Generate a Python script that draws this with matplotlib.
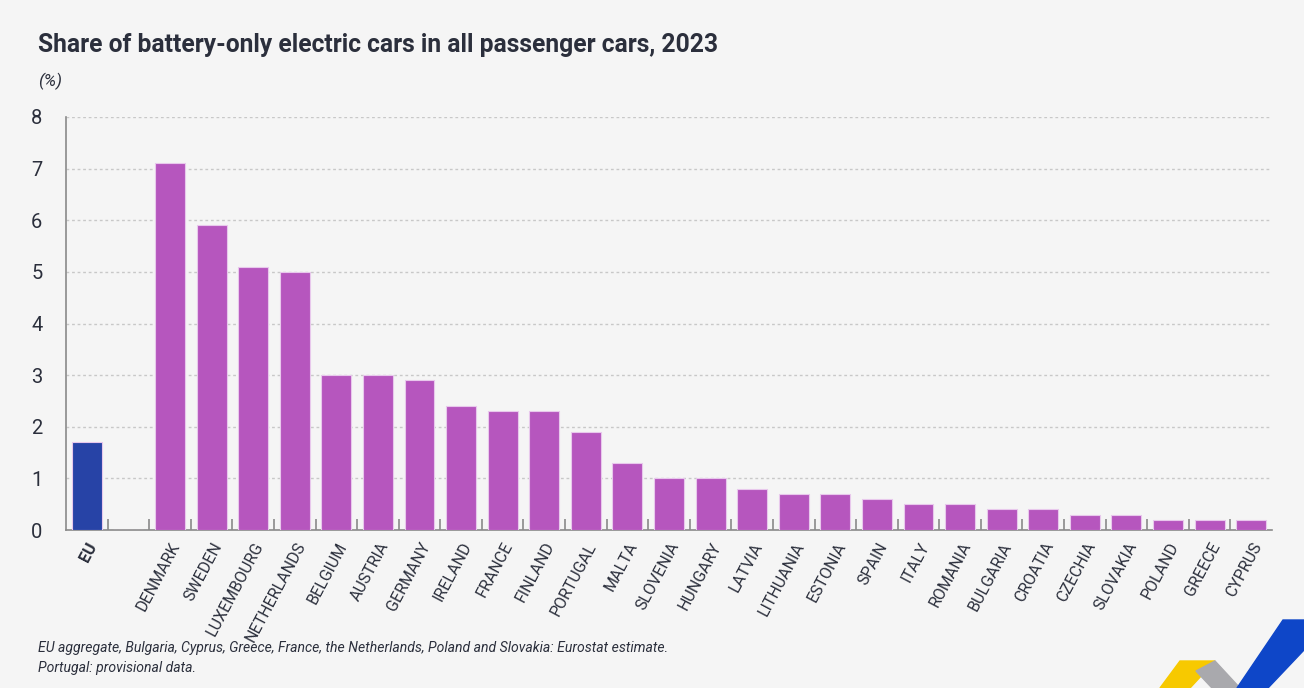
import matplotlib.pyplot as plt
from matplotlib.patches import Polygon
import numpy as np

plt.rcParams['font.family'] = ['Roboto', 'DejaVu Sans']

countries = ["EU", "", "DENMARK", "SWEDEN", "LUXEMBOURG", "NETHERLANDS", "BELGIUM",
             "AUSTRIA", "GERMANY", "IRELAND", "FRANCE", "FINLAND", "PORTUGAL",
             "MALTA", "SLOVENIA", "HUNGARY", "LATVIA", "LITHUANIA", "ESTONIA",
             "SPAIN", "ITALY", "ROMANIA", "BULGARIA", "CROATIA", "CZECHIA",
             "SLOVAKIA", "POLAND", "GREECE", "CYPRUS"]
shares = [1.7, 0, 7.1, 5.9, 5.1, 5.0, 3.0, 3.0, 2.9, 2.4, 2.3, 2.3, 1.9,
          1.3, 1.0, 1.0, 0.8, 0.7, 0.7, 0.6, 0.5, 0.5, 0.4, 0.4, 0.3,
          0.3, 0.2, 0.2, 0.2]
yticks = [0, 1, 2, 3, 4, 5, 6, 7, 8]

bg = "#f5f5f5"
purple = "#b656be"
blue = "#2743a6"
txt = "#2b2f3c"

fig = plt.figure(figsize=(13.04, 6.88), dpi=100, facecolor=bg)
ax = fig.add_axes([66 / 1304, 1 - 530 / 688, (1272 - 66) / 1304, (530 - 117) / 688])
ax.set_facecolor(bg)

x = np.arange(len(countries))
colors = [blue if c == "EU" else purple for c in countries]
ax.bar(x, shares, width=0.72, color=colors, edgecolor="#e8c8ec", linewidth=0.8, zorder=3)

ax.set_xlim(-0.5, len(countries) - 0.5)
ax.set_ylim(0, 8)
ax.set_yticks(yticks)
ax.set_yticklabels([str(v) for v in yticks], fontsize=14.5, color=txt)
ax.tick_params(axis="y", length=0, pad=17)
ax.grid(axis="y", linestyle=(0, (2, 2)), color="#c8c8c8", linewidth=1, zorder=0)

ax.set_xticks(x)
ax.set_xticklabels(countries, rotation=62, ha="right", rotation_mode="anchor",
                   fontsize=11.5, color=txt)
ax.get_xticklabels()[0].set_fontweight("bold")
ax.tick_params(axis="x", length=0, pad=7)
ax.set_xticks(np.arange(0.5, len(countries) - 1, 1), minor=True)
ax.tick_params(axis="x", which="minor", direction="in", length=8, width=1.2, color="#8a8a8a")

for s in ["top", "right"]:
    ax.spines[s].set_visible(False)
for s in ["left", "bottom"]:
    ax.spines[s].set_color("#8a8a8a")
    ax.spines[s].set_linewidth(1.2)

fig.text(38 / 1304, 1 - 45 / 688, "Share of battery-only electric cars in all passenger cars, 2023",
         fontsize=17.7, fontweight="bold", color=txt, va="center")
fig.text(38 / 1304, 1 - 81 / 688, "(%)", fontsize=12.5, style="italic", color=txt, va="center")
fig.text(38 / 1304, 1 - 648 / 688,
         "EU aggregate, Bulgaria, Cyprus, Greece, France, the Netherlands, Poland and Slovakia: Eurostat estimate.",
         fontsize=10.1, style="italic", color=txt, va="center")
fig.text(38 / 1304, 1 - 668 / 688, "Portugal: provisional data.",
         fontsize=10.1, style="italic", color=txt, va="center")

# logo in the corner
def px(pts):
    return [(a / 1304, 1 - b / 688) for a, b in pts]

fig.patches.append(Polygon(px([(1180, 661), (1215, 661), (1190, 688), (1160, 688)]),
                           closed=True, color="#f7c900", transform=fig.transFigure))
fig.patches.append(Polygon(px([(1215, 661), (1240, 688), (1212, 688), (1196, 671)]),
                           closed=True, color="#a9a9ad", transform=fig.transFigure))
fig.patches.append(Polygon(px([(1283, 620), (1304, 620), (1304, 650), (1268, 688), (1237, 688)]),
                           closed=True, color="#0e46c8", transform=fig.transFigure))

fig.savefig("out.png", dpi=100, facecolor=bg)
